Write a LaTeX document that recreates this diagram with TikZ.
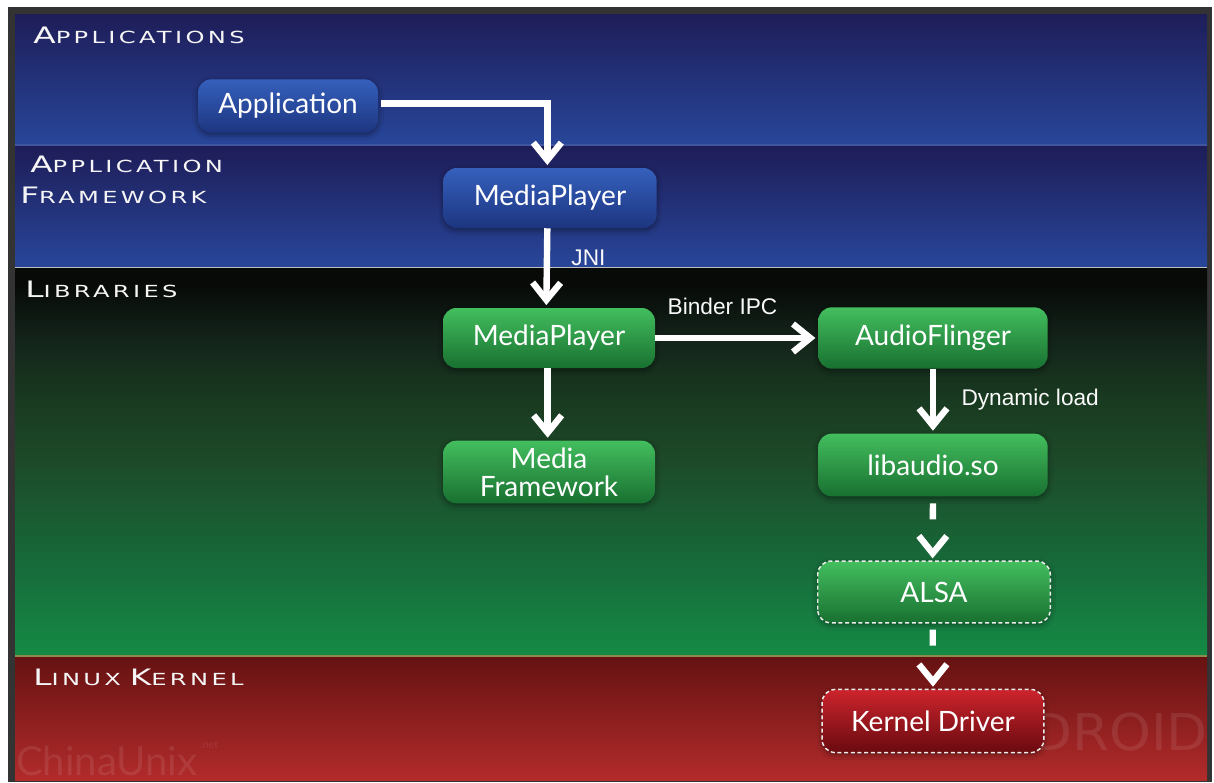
\documentclass[tikz,border=0pt]{standalone}
\usepackage{fontspec}
\setmainfont{Lato}
\newfontfamily\layerfont{DejaVu Sans}[FakeStretch=1.45,LetterSpace=20]
\newfontfamily\labelfont{Liberation Sans}
\newfontfamily\markfont{DejaVu Sans}[FakeStretch=1.05]
\usetikzlibrary{arrows.meta,shadows.blur}

% palette
\definecolor{framegray}{HTML}{333333}
\definecolor{bluetop}{HTML}{1E1D58}
\definecolor{bluebot}{HTML}{28469A}
\definecolor{bandline}{HTML}{3F55A0}
\definecolor{libA}{HTML}{158A45}
\definecolor{libB}{HTML}{176A3A}
\definecolor{libC}{HTML}{1D4A29}
\definecolor{libD}{HTML}{193A20}
\definecolor{libE}{HTML}{13231A}
\definecolor{libF}{HTML}{070A07}
\definecolor{redtop}{HTML}{661212}
\definecolor{redbot}{HTML}{B22B2B}
\definecolor{nbluetop}{HTML}{3560BC}
\definecolor{nbluebot}{HTML}{1D3580}
\definecolor{ngreentop}{HTML}{43BE5E}
\definecolor{ngreenbot}{HTML}{187030}
\definecolor{nredtop}{HTML}{CC242C}
\definecolor{nredbot}{HTML}{6A0A10}

% the filled path is mapped onto 25bp..75bp of the shading
\pgfdeclareverticalshading{libshade}{100bp}{%
  color(0bp)=(libA); color(25bp)=(libA); color(37bp)=(libB); color(50bp)=(libC);
  color(58bp)=(libD); color(66bp)=(libE); color(73bp)=(libF); color(100bp)=(libF)}

% small-caps style layer captions
\newcommand\lcap[2]{{\fontsize{17}{17}\selectfont #1}{\fontsize{12.5}{12.5}\selectfont #2}}

\tikzset{
  box/.style={rounded corners=10pt, text=white, font=\fontsize{21}{22}\selectfont,
    align=center, inner sep=2pt,
    blur shadow={shadow xshift=0pt, shadow yshift=-1.5pt, shadow opacity=45, shadow blur radius=4pt}},
  bluebox/.style={box, top color=nbluetop, bottom color=nbluebot},
  greenbox/.style={box, top color=ngreentop, bottom color=ngreenbot},
  redbox/.style={box, top color=nredtop, bottom color=nredbot},
  dashedge/.style={draw=white!85!gray, line width=1.1pt, dash pattern=on 3pt off 2pt},
  layer/.style={anchor=base west, text=white!92!gray, font=\layerfont, inner sep=0pt},
  flow/.style={draw=white, line width=4.8pt,
    -{Straight Barb[length=13pt,width=21pt]}},
  dflow/.style={flow, dash pattern=on 0pt off 5pt on 12pt off 60pt},
  flowlabel/.style={text=white!95!gray, font=\labelfont\fontsize{17}{18}\selectfont, inner sep=2pt},
  watermark/.style={text=white, opacity=0.09, inner sep=0pt}
}

\begin{document}
\begin{tikzpicture}[x=0.75pt, y=-0.75pt]
\useasboundingbox (0,0) rectangle (1214,782);
\fill[white] (0,0) rectangle (1214,782);
\fill[framegray] (8,7) rectangle (1212,782);

% layer bands
\fill[top color=bluetop, bottom color=bluebot] (15,14) rectangle (1207,144);
\fill[top color=bluetop, bottom color=bluebot] (15,146) rectangle (1207,267);
\fill[shading=libshade] (15,268) rectangle (1207,655);
\fill[top color=redtop, bottom color=redbot] (15,657) rectangle (1207,780);
\draw[line width=1.2pt, color=bandline] (15,145) -- (1207,145);
\draw[line width=0.8pt, color=gray!50] (15,267.5) -- (1207,267.5);
\draw[line width=1.2pt, color=olive!45!gray] (15,656) -- (1207,656);

% faint watermarks
\node[watermark, anchor=base west, font=\fontsize{30}{30}\selectfont] (wm1) at (16,775) {ChinaUnix};
\node[watermark, anchor=base west, font=\fontsize{8}{8}\selectfont] (wm2) at (200,748) {.net};
\node[watermark, anchor=base east, font=\markfont\fontsize{38}{38}\selectfont] (wm3) at (1208,750) {DROID};

% layer captions
\node[layer] (lapps) at (33,43) {\lcap{A}{PPLICATIONS}};
\node[layer] (lfw1) at (30,172) {\lcap{A}{PPLICATION}};
\node[layer] (lfw2) at (20,203) {\lcap{F}{RAMEWORK}};
\node[layer] (llib) at (25,297) {\lcap{L}{IBRARIES}};
\node[layer] (lker) at (33,685) {\lcap{L}{INUX} \lcap{K}{ERNEL}};

% components
\node[bluebox, minimum width=135pt, minimum height=40pt] (app) at (288,106) {Application};
\node[bluebox, minimum width=160pt, minimum height=45pt] (mpj) at (550,198) {MediaPlayer};
\node[greenbox, minimum width=159pt, minimum height=45pt] (mpn) at (549,338) {MediaPlayer};
\node[greenbox, minimum width=172pt, minimum height=46pt] (af) at (933,338) {AudioFlinger};
\node[greenbox, minimum width=159pt, minimum height=47pt, font=\fontsize{21}{21}\selectfont] (mf) at (549,472) {Media\\Framework};
\node[greenbox, minimum width=172pt, minimum height=47pt] (lib) at (933,465) {libaudio.so};
\node[greenbox, minimum width=174pt, minimum height=46pt] (alsa) at (934,592) {ALSA};
\draw[dashedge, rounded corners=10pt] (alsa.south west) rectangle (alsa.north east);
\node[redbox, minimum width=166pt, minimum height=47pt] (kd) at (933,721) {Kernel Driver};
\draw[dashedge, rounded corners=10pt] (kd.south west) rectangle (kd.north east);

% call flow
\draw[flow] ([xshift=2pt,yshift=2pt]app.east) -| ([xshift=-2pt,yshift=2pt]mpj.north);
\draw[flow] ([xshift=-2pt]mpj.south) -- node[flowlabel, right=14pt, pos=0.38] (jni) {JNI} ([xshift=-2pt,yshift=2pt]mpn.north);
\draw[flow] (mpn.east) -- node[flowlabel, above=13pt, pos=0.42] (binder) {Binder IPC} ([xshift=-2pt]af.west);
\draw[flow] ([xshift=-1pt]mpn.south) -- ([xshift=-1pt,yshift=2pt]mf.north);
\draw[flow] (af.south) -- node[flowlabel, right=17pt] (dyn) {Dynamic load} ([yshift=2pt]lib.north);
\draw[dflow] (lib.south) -- ([xshift=-1pt,yshift=2pt]alsa.north);
\draw[dflow] ([xshift=-1pt]alsa.south) -- ([yshift=2pt]kd.north);
\end{tikzpicture}
\end{document}
